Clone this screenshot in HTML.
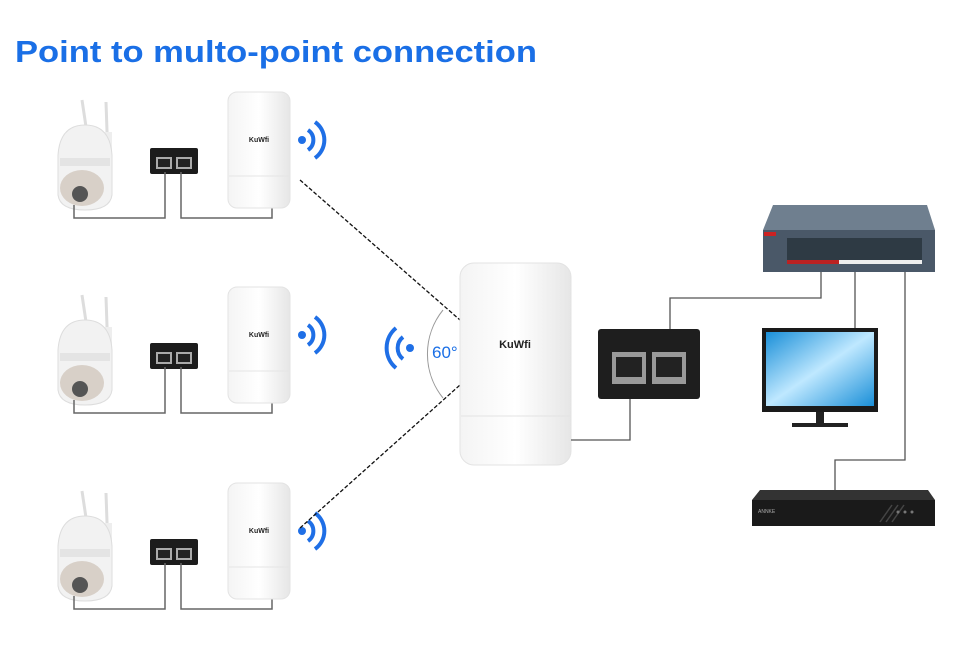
<!DOCTYPE html>
<html><head><meta charset="utf-8"><style>body{margin:0;background:#fff}svg{display:block}</style></head><body>
<svg width="960" height="653" viewBox="0 0 960 653" xmlns="http://www.w3.org/2000/svg" font-family="Liberation Sans, sans-serif">
<defs>
<linearGradient id="cpe" x1="0" x2="1"><stop offset="0" stop-color="#f4f4f4"/><stop offset="0.5" stop-color="#fff"/><stop offset="1" stop-color="#e6e6e6"/></linearGradient>
<linearGradient id="scr" x1="0" y1="0" x2="1" y2="1"><stop offset="0" stop-color="#1a8fd8"/><stop offset="0.5" stop-color="#bfe8ff"/><stop offset="1" stop-color="#1a8fd8"/></linearGradient>
<g id="row">
 <line x1="82" y1="100" x2="88" y2="140" stroke="#ddd" stroke-width="3"/>
 <line x1="106" y1="102" x2="108" y2="160" stroke="#ddd" stroke-width="3"/>
 <rect x="90" y="132" width="22" height="28" fill="#eee"/>
 <path d="M58 155 Q60 125 85 125 Q110 125 112 155 L112 195 Q110 210 85 210 Q60 210 58 195Z" fill="#f2f2f2" stroke="#ddd"/>
 <rect x="60" y="158" width="50" height="8" fill="#e4e4e4"/>
 <ellipse cx="82" cy="188" rx="22" ry="18" fill="#d8d0c8"/>
 <circle cx="80" cy="194" r="8" fill="#555"/>
 <rect x="150" y="148" width="48" height="26" fill="#1c1c1c" rx="2"/>
 <rect x="156" y="157" width="16" height="12" fill="#aaa"/><rect x="176" y="157" width="16" height="12" fill="#aaa"/>
 <rect x="158" y="159" width="12" height="8" fill="#222"/><rect x="178" y="159" width="12" height="8" fill="#222"/>
 <polyline points="74,205 74,218 165,218 165,172" fill="none" stroke="#666" stroke-width="1.5"/>
 <polyline points="181,172 181,218 272,218 272,205" fill="none" stroke="#666" stroke-width="1.5"/>
 <rect x="228" y="92" width="62" height="116" rx="9" fill="url(#cpe)" stroke="#e3e3e3"/>
 <line x1="229" y1="176" x2="289" y2="176" stroke="#e5e5e5"/>
 <text x="259" y="142" font-size="7" font-weight="bold" text-anchor="middle" fill="#222">KuWfi</text>
 <circle cx="302" cy="140" r="4" fill="#1f6fe6"/>
 <path d="M308 130 A12 12 0 0 1 308 150" fill="none" stroke="#1f6fe6" stroke-width="4"/>
 <path d="M315 122 A22 22 0 0 1 315 158" fill="none" stroke="#1f6fe6" stroke-width="4"/>
</g>
</defs>
<text x="15" y="62" font-size="31" font-weight="bold" fill="#1a6fe6" textLength="522" lengthAdjust="spacingAndGlyphs">Point to multo-point connection</text>
<use href="#row"/>
<use href="#row" y="195"/>
<use href="#row" y="391"/>
<line x1="300" y1="180" x2="460" y2="320" stroke="#111" stroke-width="1.3" stroke-dasharray="4,2"/>
<line x1="300" y1="528" x2="460" y2="385" stroke="#111" stroke-width="1.3" stroke-dasharray="4,2"/>
<path d="M443 310 A70 70 0 0 0 443 398" fill="none" stroke="#999"/>
<text x="432" y="358" font-size="17" fill="#1a6fe6">60°</text>
<circle cx="410" cy="348" r="4" fill="#1f6fe6"/>
<path d="M403 337 A14 14 0 0 0 403 359" fill="none" stroke="#1f6fe6" stroke-width="4"/>
<path d="M396 328 A26 26 0 0 0 396 368" fill="none" stroke="#1f6fe6" stroke-width="4"/>
<rect x="460" y="263" width="111" height="202" rx="14" fill="url(#cpe)" stroke="#e3e3e3"/>
<line x1="461" y1="416" x2="570" y2="416" stroke="#e3e3e3"/>
<text x="515" y="348" font-size="11" font-weight="bold" text-anchor="middle" fill="#222">KuWfi</text>
<polyline points="571,440 630,440 630,385" fill="none" stroke="#555" stroke-width="1.3"/>
<rect x="598" y="329" width="102" height="70" rx="3" fill="#1e1e1e"/>
<rect x="612" y="352" width="34" height="32" fill="#999"/><rect x="652" y="352" width="34" height="32" fill="#999"/>
<rect x="616" y="357" width="26" height="20" fill="#222"/><rect x="656" y="357" width="26" height="20" fill="#222"/>
<polyline points="670,329 670,298 821,298 821,272" fill="none" stroke="#555" stroke-width="1.3"/>
<polyline points="855,328 855,272" fill="none" stroke="#555" stroke-width="1.3"/>
<polyline points="835,490 835,460 905,460 905,272" fill="none" stroke="#555" stroke-width="1.3"/>
<path d="M773 205 L927 205 L935 230 L763 230Z" fill="#6f7f8f"/>
<rect x="763" y="230" width="172" height="42" fill="#4a5868"/>
<rect x="787" y="238" width="135" height="22" fill="#2e3a44"/>
<rect x="787" y="260" width="52" height="4" fill="#b22"/><rect x="839" y="260" width="83" height="4" fill="#eee"/>
<rect x="764" y="232" width="12" height="4" fill="#c22"/>
<rect x="762" y="328" width="116" height="84" fill="#1a1a1a"/>
<rect x="766" y="332" width="108" height="74" fill="url(#scr)"/>
<rect x="816" y="412" width="8" height="12" fill="#222"/>
<rect x="792" y="423" width="56" height="4" fill="#222"/>
<path d="M760 490 L928 490 L935 500 L752 500Z" fill="#333"/>
<rect x="752" y="500" width="183" height="26" fill="#1a1a1a"/>
<text x="758" y="513" font-size="5" fill="#aaa">ANNKE</text>
<path d="M880 522 L892 505 M886 522 L898 505 M892 522 L904 505" stroke="#444" stroke-width="1.5"/>
<circle cx="898" cy="512" r="1.5" fill="#777"/><circle cx="905" cy="512" r="1.5" fill="#777"/><circle cx="912" cy="512" r="1.5" fill="#777"/>
</svg>
</body></html>
